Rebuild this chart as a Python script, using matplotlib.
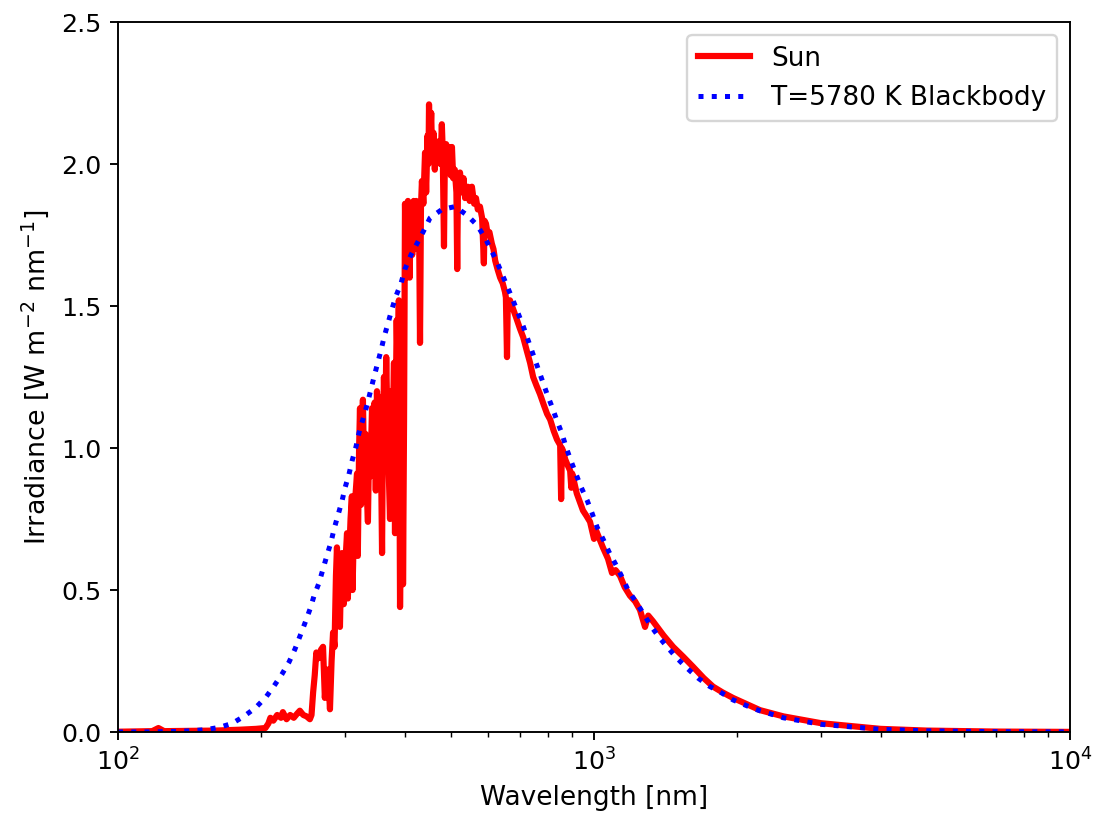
import matplotlib
matplotlib.use("Agg")
import matplotlib.pyplot as plt

# Solar spectrum (wavelength in nm, irradiance in W m^-2 nm^-1)
sun_wavelength = [
    100, 110, 118, 121.6, 125, 140, 160, 180, 195, 204,
    207, 209, 212, 216, 220, 222, 226, 230, 234, 238,
    241, 245, 249, 253, 255, 257, 259, 261, 264, 267,
    269.6, 272, 274, 276, 278.8, 281, 283, 285, 287, 288.4,
    290, 292.6, 294, 295.5, 298, 300, 302.8, 304, 306, 308,
    310, 311, 313, 315, 317.8, 319, 321, 322.4, 324, 325,
    327, 329, 331, 333, 335, 337, 339, 341.7, 344, 346,
    348, 350, 352, 355, 357, 358.7, 360, 362, 364, 366,
    368, 370, 372.8, 375, 377, 380, 381.9, 383, 385, 387,
    389, 391.3, 393, 394, 396, 397, 399, 400.8, 402, 403,
    404, 406.6, 408, 410, 412, 415, 418, 420, 423, 426,
    429, 431, 433, 435, 438, 441.6, 444, 447, 449, 450.2,
    452, 455, 457, 460, 463, 465, 468, 472, 476, 479,
    481, 484, 486, 489, 493, 497, 500, 503, 506, 510,
    514, 516, 518, 523, 528, 532, 536, 543, 548, 554,
    560, 565, 570, 576, 582, 587, 589, 593, 597, 603,
    610, 615, 620, 627, 635, 643, 650, 653, 656.5, 659,
    666, 676, 686, 699, 710, 723, 734, 745, 757, 770,
    785, 797, 809, 823, 836, 849, 853, 856, 861, 870,
    880, 891, 896, 900, 920, 948, 965, 981, 1000, 1010,
    1044, 1070, 1091, 1110, 1134, 1160, 1190, 1220, 1249, 1280,
    1300, 1330, 1400, 1466, 1540, 1614, 1700, 1778, 1860, 1959,
    2232, 2500, 3000, 4000, 5000, 7000, 10000,
]
sun_irradiance = [
    0.001, 0.002, 0.003, 0.014, 0.003, 0.004, 0.005, 0.008, 0.011, 0.014,
    0.03, 0.05, 0.04, 0.06, 0.05, 0.07, 0.045, 0.06, 0.05, 0.065,
    0.075, 0.06, 0.055, 0.045, 0.06, 0.14, 0.20, 0.28, 0.26, 0.29,
    0.30, 0.12, 0.20, 0.22, 0.08, 0.25, 0.35, 0.30, 0.55, 0.65,
    0.50, 0.37, 0.55, 0.63, 0.45, 0.58, 0.70, 0.47, 0.62, 0.75,
    0.83, 0.50, 0.72, 0.82, 0.91, 0.62, 1.00, 1.14, 0.80, 1.05,
    1.17, 0.90, 1.05, 0.85, 0.74, 1.02, 0.90, 1.14, 0.95, 1.16,
    0.85, 1.20, 0.90, 1.18, 0.95, 0.63, 1.00, 1.25, 1.05, 1.32,
    1.10, 0.95, 0.75, 1.20, 1.00, 1.30, 0.70, 1.10, 1.45, 1.25,
    1.52, 0.44, 0.77, 1.20, 1.44, 0.52, 1.10, 1.86, 1.70, 1.82,
    1.60, 1.87, 1.68, 1.60, 1.85, 1.68, 1.87, 1.70, 1.87, 1.75,
    1.80, 1.37, 1.85, 1.94, 1.86, 2.04, 1.90, 2.10, 2.00, 2.21,
    2.05, 2.18, 2.02, 2.11, 1.98, 2.05, 2.01, 2.08, 2.00, 2.14,
    2.05, 1.71, 2.02, 2.07, 1.98, 2.06, 1.96, 2.06, 1.95, 1.98,
    1.90, 1.63, 1.93, 1.97, 1.90, 1.95, 1.88, 1.92, 1.87, 1.92,
    1.86, 1.88, 1.84, 1.85, 1.81, 1.65, 1.80, 1.79, 1.76, 1.76,
    1.72, 1.70, 1.66, 1.63, 1.60, 1.58, 1.55, 1.53, 1.32, 1.52,
    1.52, 1.49, 1.46, 1.42, 1.39, 1.34, 1.30, 1.25, 1.22, 1.19,
    1.15, 1.12, 1.10, 1.06, 1.03, 1.01, 0.82, 1.00, 0.99, 0.96,
    0.94, 0.92, 0.86, 0.91, 0.84, 0.78, 0.76, 0.74, 0.68, 0.71,
    0.65, 0.61, 0.56, 0.57, 0.55, 0.51, 0.48, 0.46, 0.43, 0.37,
    0.41, 0.39, 0.34, 0.30, 0.265, 0.23, 0.19, 0.16, 0.14, 0.12,
    0.077, 0.055, 0.031, 0.011, 0.005, 0.0015, 0.0004,
]

# T = 5780 K blackbody curve
bb_wavelength = [
    100, 116.7, 133, 141.7, 152.3, 163, 173.6, 183.9, 195, 204.6,
    212.7, 221.1, 228.7, 235.4, 241.2, 247.1, 253.2, 258.1, 264.4, 269.6,
    274.9, 280.3, 284.3, 289.9, 295.5, 299.8, 305.7, 310.2, 316.2, 320.8,
    327.1, 333.5, 345, 357, 362.2, 369.3, 376.4, 383.7, 393.2, 400.8,
    412.6, 424.8, 437.3, 452.4, 479.4, 510.5, 541.1, 567.8, 590.2, 625.6,
    675.9, 709.6, 744.7, 796.9, 816.1, 836.4, 856.8, 873.5, 894.9, 916.8,
    939.1, 966.7, 990.4, 1014.6, 1044.5, 1075.3, 1112.4, 1145.1, 1178.8, 1225.3,
    1267.5, 1317.4, 1369.5, 1430.4, 1494, 1568, 1654, 1744, 1857, 1959,
    2097, 2211, 2500, 3000, 4000, 5000, 7000, 10000,
]
bb_irradiance = [
    0.0, 0.0005, 0.002, 0.004, 0.008, 0.016, 0.03, 0.055, 0.087, 0.123,
    0.162, 0.204, 0.246, 0.292, 0.338, 0.384, 0.433, 0.479, 0.525, 0.574,
    0.623, 0.669, 0.714, 0.764, 0.813, 0.859, 0.908, 0.954, 1.004, 1.053,
    1.102, 1.151, 1.25, 1.345, 1.39, 1.44, 1.49, 1.535, 1.58, 1.63,
    1.68, 1.72, 1.76, 1.81, 1.84, 1.85, 1.82, 1.785, 1.74, 1.655,
    1.52, 1.43, 1.33, 1.19, 1.145, 1.095, 1.05, 1.003, 0.954, 0.908,
    0.863, 0.817, 0.771, 0.722, 0.68, 0.634, 0.588, 0.546, 0.50, 0.458,
    0.419, 0.373, 0.334, 0.296, 0.26, 0.225, 0.19, 0.162, 0.137, 0.113,
    0.092, 0.077, 0.05, 0.027, 0.0094, 0.0041, 0.0012, 0.0003,
]

n_sun = min(len(sun_wavelength), len(sun_irradiance))
n_bb = min(len(bb_wavelength), len(bb_irradiance))

DPI = 171.5
fig = plt.figure(figsize=(1098 / DPI, 821 / DPI), dpi=DPI)
ax = fig.add_axes([118 / 1098, 1 - 732 / 821, (1070 - 118) / 1098, (732 - 22) / 821])

ax.plot(sun_wavelength[:n_sun], sun_irradiance[:n_sun], color="red", lw=2.6,
        label="Sun")
ax.plot(bb_wavelength[:n_bb], bb_irradiance[:n_bb], color="blue", lw=2.1,
        linestyle=":", label="T=5780 K Blackbody")

ax.set_xscale("log")
ax.set_xlim(100, 10000)
ax.set_ylim(0, 2.5)
ax.tick_params(axis="both", which="major", labelsize=10.6)
ax.set_xlabel("Wavelength [nm]", fontsize=11.1)
ax.set_ylabel("Irradiance [W m$^{-2}$ nm$^{-1}$]", fontsize=11.3)
ax.legend(loc="upper right", fontsize=11.0)

fig.savefig("out.png", dpi=DPI)
